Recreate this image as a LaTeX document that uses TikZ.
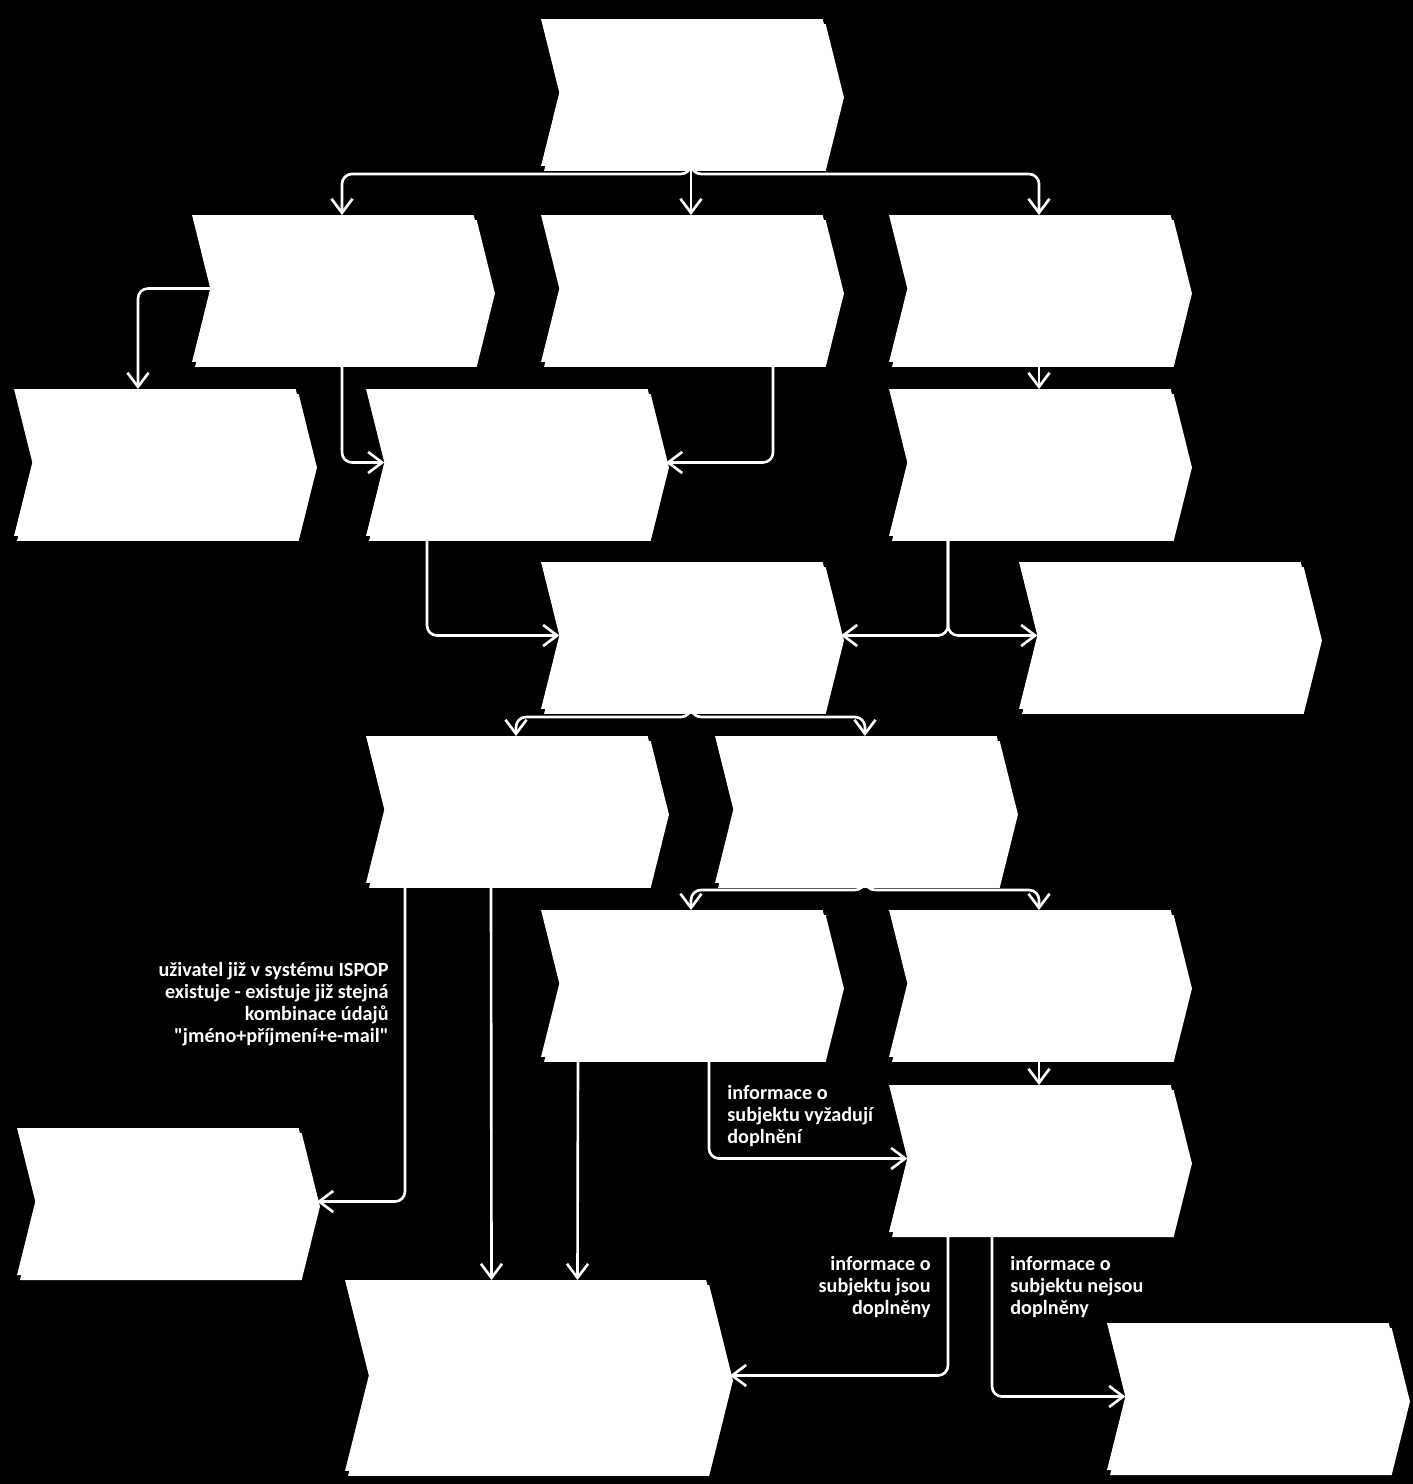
\documentclass[tikz,border=0pt]{standalone}
\usepackage{fontspec}
\setmainfont{Carlito}
\usetikzlibrary{shapes.symbols, shadows, arrows.meta, calc}

\tikzset{
  chev/.style={signal, signal to=east, signal from=west, signal pointer angle=152,
    fill=white, draw=none, inner sep=0pt, outer sep=0pt,
    minimum width=6cm, minimum height=2.94cm,
    drop shadow={shadow xshift=0.06cm, shadow yshift=-0.1cm, fill=white, opacity=1}},
  conn/.style={draw=white, line width=1.5pt, rounded corners=0.2cm,
    -{Straight Barb[length=8pt, width=12pt, line width=1.5pt]}},
  lbl/.style={text=white, inner sep=0pt, font=\bfseries\fontsize{11.5}{12.4}\selectfont}
}

\begin{document}
\begin{tikzpicture}[x=0.02cm, y=-0.02cm]
	\fill[black] (0,0) rectangle (1413,1484);
	\useasboundingbox (0,0) rectangle (1413,1484);
	% boxes
	\node[chev] (r1) at (691,92.5) {};
	\node[chev] (r2a) at (342,288.5) {};
	\node[chev] (r2b) at (691,288.5) {};
	\node[chev] (r2c) at (1039,288.5) {};
	\node[chev] (r3a) at (164,462.5) {};
	\node[chev] (r3b) at (516,462.5) {};
	\node[chev] (r3c) at (1039,462.5) {};
	\node[chev] (r4a) at (691,635.5) {};
	\node[chev] (r4b) at (1169,635.5) {};
	\node[chev] (r5a) at (516,809.5) {};
	\node[chev] (r5b) at (865,809.5) {};
	\node[chev] (r6a) at (691,983.5) {};
	\node[chev] (r6b) at (1039,983.5) {};
	\node[chev] (r7b) at (1039,1158.5) {};
	\node[chev] (r8a) at (167,1201.5) {};
	\node[chev, minimum width=7.7cm, minimum height=3.82cm] (r9a) at (537.5,1375.5) {};
	\node[chev] (r9b) at (1257,1396.5) {};
	% connectors
	\draw[conn] (r1.south) -- ++(0,8) -| (r2a.north);
	\draw[conn] (r1.south) -- (r2b.north);
	\draw[conn] (r1.south) -- ++(0,8) -| (r2c.north);
	\draw[conn] (r2a.west) -| ($(r3a.north)+(-26,0)$);
	\draw[conn] (r2a.south) |- (r3b.west);
	\draw[conn] ($(r2b.south)+(82,0)$) |- (r3b.east);
	\draw[conn] (r2c.south) -- (r3c.north);
	\draw[conn] ($(r3b.south)+(-89,0)$) |- (r4a.west);
	\draw[conn] ($(r3c.south)+(-91,0)$) |- (r4a.east);
	\draw[conn] ($(r3c.south)+(-91,0)$) |- (r4b.west);
	\draw[conn] (r4a.south) -- ++(0,8) -| (r5a.north);
	\draw[conn] (r4a.south) -- ++(0,8) -| (r5b.north);
	\draw[conn] (r5b.south) -- ++(0,7) -| (r6a.north);
	\draw[conn] (r5b.south) -- ++(0,7) -| (r6b.north);
	\draw[conn] (r6b.south) -- (r7b.north);
	\draw[conn] ($(r5a.south)+(-111,0)$) |- (r8a.east);
	\draw[conn] ($(r5a.south)+(-25,0)$) -- ($(r9a.north)+(-46,0)$);
	\draw[conn] ($(r6a.south)+(-113,0)$) -- ($(r9a.north)+(40,0)$);
	\draw[conn] ($(r6a.south)+(18,0)$) |- (r7b.west);
	\draw[conn] ($(r7b.south)+(-91,0)$) |- (r9a.east);
	\draw[conn] ($(r7b.south)+(-47,0)$) |- (r9b.west);
	% labels
	\node[lbl, anchor=east, align=right] (lexist) at (389,1004) {u\v{z}ivatel ji\v{z} v syst\'emu ISPOP\\existuje - existuje ji\v{z} stejn\'a\\kombinace \'udaj\r{u}\\\textquotedbl jm\'eno+p\v{r}\'ijmen\'i+e-mail\textquotedbl};
	\node[lbl, anchor=north west, align=left] (lneed) at (727,1085) {informace o\\subjektu vy\v{z}aduj\'i\\dopln\v{e}n\'i};
	\node[lbl, anchor=north east, align=right] (ldone) at (931,1256) {informace o\\subjektu jsou\\dopln\v{e}ny};
	\node[lbl, anchor=north west, align=left] (lnot) at (1010,1256) {informace o\\subjektu nejsou\\dopln\v{e}ny};
\end{tikzpicture}
\end{document}
